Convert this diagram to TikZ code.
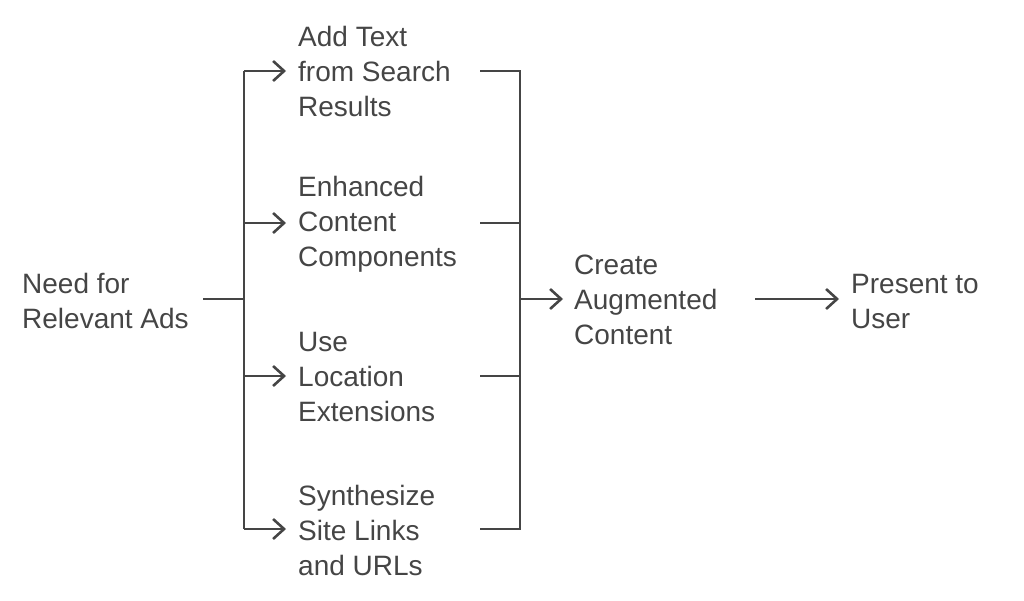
\documentclass[tikz,border=0pt]{standalone}
\usepackage{fontspec}
\setmainfont{Liberation Sans}
\usetikzlibrary{arrows.meta}
\definecolor{ink}{HTML}{454545}
\begin{document}
\begin{tikzpicture}[x=1pt,y=-1pt,
  lbl/.style={anchor=west,inner sep=0pt,align=left,text=ink,font=\fontsize{28}{35}\selectfont},
  conn/.style={draw=ink,line width=2.6pt},
  arr/.style={conn,-{Straight Barb[length=11pt,width=20pt,line width=2.6pt]}}]
\useasboundingbox (0,0) rectangle (1024,600);
\node[lbl] (need) at (22,301) {Need for\\Relevant Ads};
\node[lbl] (a1) at (298,71) {Add Text\\from Search\\Results};
\node[lbl] (a2) at (298,224) {Enhanced\\Content\\Components};
\node[lbl] (a3) at (298,377) {Use\\Location\\Extensions};
\node[lbl] (a4) at (298,530) {Synthesize\\Site Links\\and URLs};
\node[lbl] (cr) at (574,300) {Create\\Augmented\\Content};
\node[lbl] (pr) at (851,301) {Present to\\User};
\coordinate (sp) at (244,299);
\coordinate (jn) at (520,299);
\draw[conn] (203,299) -- (sp);
\draw[conn] (244,71) -- (244,529);
\draw[conn] (520,71) -- (520,529);
\foreach \n/\y in {a1/71,a2/223,a3/376,a4/529}{
  \draw[arr] (244,\y) -- (286,\y);
  \draw[conn] (480,\y) -- (521.3,\y);
}
\draw[arr] (jn) -- (563,299);
\draw[arr] (755,299) -- (839,299);
\end{tikzpicture}
\end{document}
